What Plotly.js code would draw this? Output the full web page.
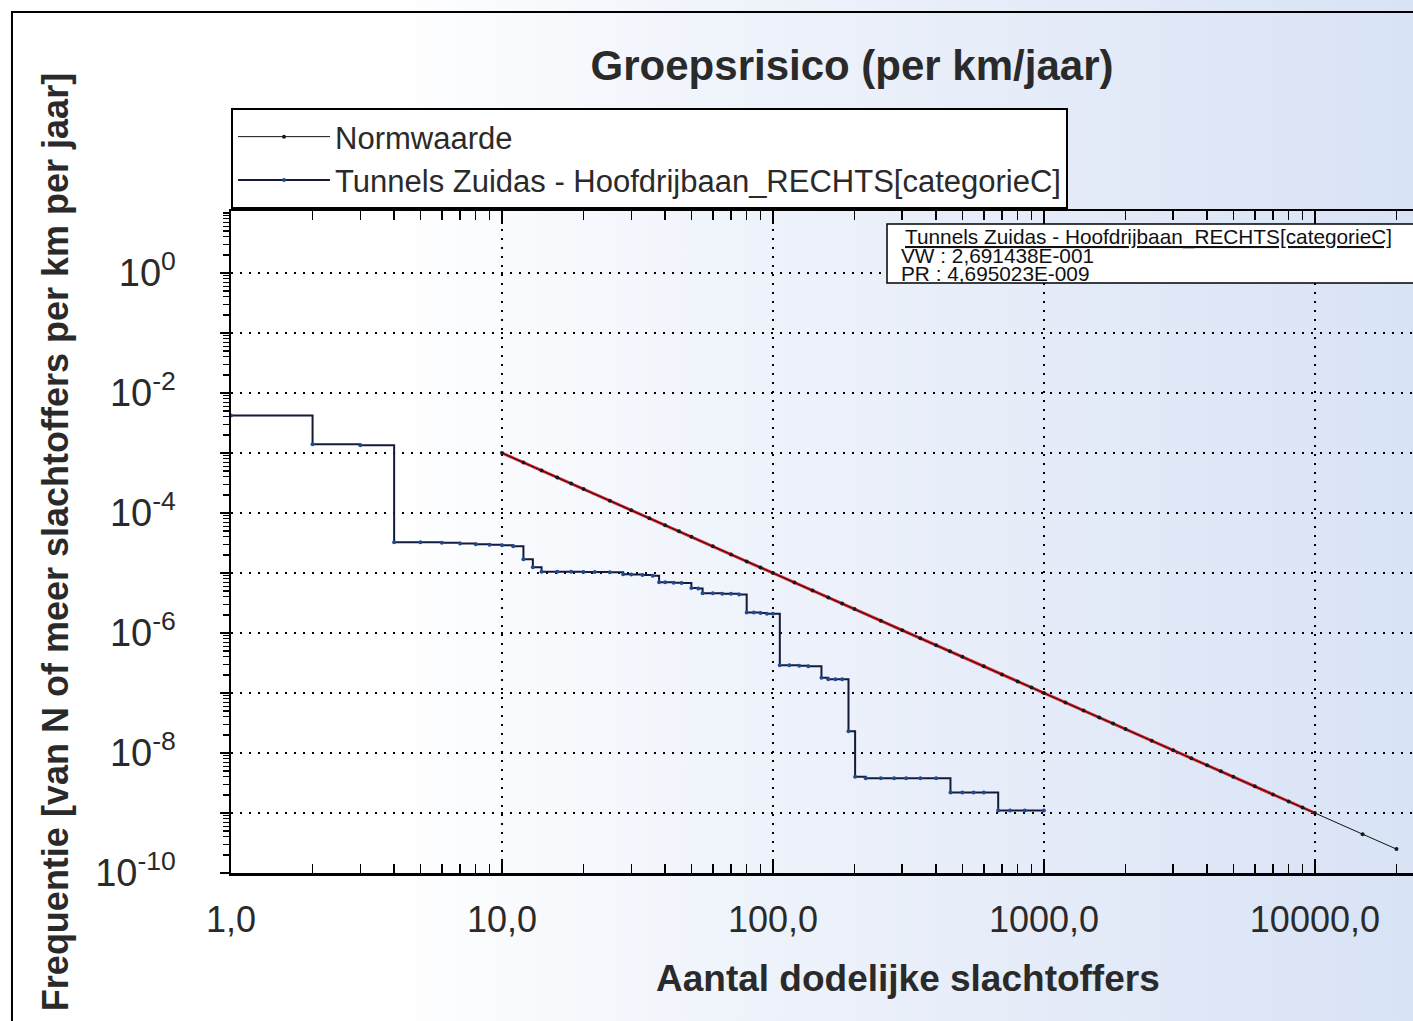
<!DOCTYPE html>
<html>
<head>
<meta charset="utf-8">
<script src="https://cdn.plot.ly/plotly-3.0.1.min.js"></script>
<style>
  html, body { margin: 0; padding: 0; }
  body {
    width: 1413px; height: 1021px; overflow: hidden;
    background: linear-gradient(90deg, #ffffff 0%, #ffffff 27%, #f0f4fb 50%, #e3eaf8 78%, #d8e3f6 100%);
  }
  #chart { width: 1413px; height: 1021px; }
</style>
</head>
<body>
<div id="chart"></div>
<script>
// ---- data ----
const normN = [10,12,14,16,18,20,25,30,35,40,45,50,60,70,80,90,
  100,120,140,160,180,200,250,300,350,400,450,500,600,700,800,900,
  1000,1200,1400,1600,1800,2000,2500,3000,3500,4000,4500,5000,6000,7000,8000,9000,
  10000,15000,20000];
const normF = [1e-3,6.94e-4,5.10e-4,3.91e-4,3.09e-4,2.5e-4,1.6e-4,1.11e-4,8.16e-5,6.25e-5,4.94e-5,4e-5,2.78e-5,2.04e-5,1.56e-5,1.23e-5,
  1e-5,6.94e-6,5.10e-6,3.91e-6,3.09e-6,2.5e-6,1.6e-6,1.11e-6,8.16e-7,6.25e-7,4.94e-7,4e-7,2.78e-7,2.04e-7,1.56e-7,1.23e-7,
  1e-7,6.94e-8,5.10e-8,3.91e-8,3.09e-8,2.5e-8,1.6e-8,1.11e-8,8.16e-9,6.25e-9,4.94e-9,4e-9,2.78e-9,2.04e-9,1.56e-9,1.23e-9,
  1e-9,4.44e-10,2.5e-10];

const redN = [10, 10000];
const redF = [1e-3, 1e-9];

const tunnelN = [1,2,3,4,5,6,7,8,9,10,11,12,13,14,16,18,20,22,25,28,30,33,36,38,40,43,46,50,53,55,60,65,70,75,80,85,90,95,100,
  106,115,125,135,151,160,170,180,190,201,220,250,280,310,350,400,452,500,550,600,678,750,850,1000];
const tunnelF = [4.2e-3,1.4e-3,1.35e-3,3.25e-5,3.25e-5,3.2e-5,3.1e-5,3.0e-5,2.95e-5,2.9e-5,2.8e-5,1.7e-5,1.25e-5,1.05e-5,1.05e-5,1.05e-5,1.04e-5,1.04e-5,1.03e-5,9.5e-6,9.4e-6,9.3e-6,9.0e-6,7.0e-6,7.0e-6,6.9e-6,6.8e-6,5.6e-6,5.5e-6,4.6e-6,4.6e-6,4.5e-6,4.5e-6,4.4e-6,2.2e-6,2.2e-6,2.15e-6,2.1e-6,2.1e-6,
  2.9e-7,2.9e-7,2.85e-7,2.8e-7,1.8e-7,1.7e-7,1.7e-7,1.7e-7,2.3e-8,4.0e-9,3.8e-9,3.8e-9,3.8e-9,3.8e-9,3.8e-9,3.8e-9,2.2e-9,2.2e-9,2.2e-9,2.2e-9,1.1e-9,1.1e-9,1.1e-9,1.1e-9];

const xTickVals = [1, 10, 100, 1000, 10000];
const xTickText = ['1,0', '10,0', '100,0', '1000,0', '10000,0'];
const yTickVals = [1e-10,1e-9,1e-8,1e-7,1e-6,1e-5,1e-4,1e-3,1e-2,1e-1,1e0];
const yTickText = ['10<sup>-10</sup>',' ','10<sup>-8</sup>',' ','10<sup>-6</sup>',' ','10<sup>-4</sup>',' ','10<sup>-2</sup>',' ','10<sup>0</sup>'];

const infoLines = ['<span style="text-decoration:underline">Tunnels Zuidas - Hoofdrijbaan_RECHTS[categorieC]</span>',
  'VW : 2,691438E-001', 'PR : 4,695023E-009'];

// ---- styles ----
const FONT = 'Liberation Sans, Arial, sans-serif';
const TXT = '#2a2a2a';

const traces = [
  { x: redN, y: redF, type: 'scatter', mode: 'lines', showlegend: false, hoverinfo: 'skip',
    line: { color: '#e3242f', width: 3 } },
  { x: normN, y: normF, type: 'scatter', mode: 'lines+markers', name: 'Normwaarde',
    line: { color: '#111111', width: 1 }, marker: { color: '#1a1a1a', size: 4 } },
  { x: tunnelN, y: tunnelF, type: 'scatter', mode: 'lines+markers', name: 'Tunnels Zuidas - Hoofdrijbaan_RECHTS[categorieC]',
    line: { color: '#141a3a', width: 2, shape: 'hv' }, marker: { color: '#1f4a98', size: 4 } }
];

const gridStyle = { showgrid: true, gridcolor: '#000', gridwidth: 2, griddash: '2px,7px' };

const layout = {
  width: 1413, height: 1021,
  margin: { l: 231, r: 0, t: 211, b: 148, pad: 0 },
  paper_bgcolor: 'rgba(0,0,0,0)',
  plot_bgcolor: 'rgba(0,0,0,0)',
  font: { family: FONT, color: TXT },
  title: { text: 'Groepsrisico (per km/jaar)', x: 0.603, xanchor: 'center', xref: 'container',
    y: 0.936, yanchor: 'middle', yref: 'container',
    font: { family: FONT, size: 42, weight: 'bold', color: TXT } },
  xaxis: Object.assign({
    type: 'log', range: [0, 4.362], tickmode: 'array', tickvals: xTickVals, ticktext: xTickText,
    ticks: 'inside', ticklen: 13, tickwidth: 2, tickcolor: '#000',
    showline: true, linecolor: '#000', linewidth: 2.5, mirror: 'ticks', zeroline: false,
    tickfont: { family: FONT, size: 36, color: TXT }, ticklabelstandoff: 13,
    minor: { dtick: 'D1', ticks: 'inside', ticklen: 9, tickwidth: 1.5, tickcolor: '#000', showgrid: false }
  }, gridStyle),
  yaxis: Object.assign({
    type: 'log', range: [-10, 1.033], tickmode: 'array', tickvals: yTickVals, ticktext: yTickText,
    ticks: 'outside', ticklen: 9, tickwidth: 2, tickcolor: '#000',
    showline: true, linecolor: '#000', linewidth: 2.5, zeroline: false,
    tickfont: { family: FONT, size: 38, color: TXT }, ticklabelstandoff: 36,
    minor: { dtick: 'D1', ticks: 'outside', ticklen: 6, tickwidth: 1.2, tickcolor: '#000', showgrid: false },
    title: { text: 'Frequentie [van N of meer slachtoffers per km per jaar]', standoff: 16,
      font: { family: FONT, size: 36, weight: 'bold', color: TXT } }
  }, gridStyle),
  yaxis2: {
    type: 'log', range: [-10, 1.033], overlaying: 'y', anchor: 'x', side: 'left',
    tickmode: 'array', tickvals: yTickVals, showticklabels: false,
    ticks: 'inside', ticklen: 9, tickwidth: 2, tickcolor: '#000', showgrid: false, showline: false, zeroline: false,
    minor: { dtick: 'D1', ticks: 'inside', ticklen: 6, tickwidth: 1.2, tickcolor: '#000', showgrid: false }
  },
  legend: { x: 0, xanchor: 'left', y: 1.1556, yanchor: 'top', bgcolor: '#ffffff',
    bordercolor: '#000', borderwidth: 2, font: { family: FONT, size: 31, color: TXT },
    itemwidth: 92, tracegroupgap: 0 },
  shapes: [
    { type: 'rect', xref: 'paper', yref: 'paper', x0: 0.555, x1: 1.02, y0: 0.8912, y1: 0.9804,
      line: { color: '#000', width: 1.5 }, fillcolor: '#ffffff' },
    { type: 'rect', xref: 'paper', yref: 'paper', x0: -0.1853, x1: 1.05, y0: -0.3, y1: 1.3006,
      line: { color: '#000', width: 2 }, fillcolor: 'rgba(0,0,0,0)' }
  ],
  annotations: [
    { text: 'Aantal dodelijke slachtoffers', xref: 'paper', yref: 'paper', x: 0.573, y: -0.159,
      xanchor: 'center', yanchor: 'middle', showarrow: false,
      font: { family: FONT, size: 37, weight: 'bold', color: TXT } },
    { text: infoLines[0], xref: 'paper', yref: 'paper', x: 0.5695, y: 0.9605, xanchor: 'left', yanchor: 'middle',
      showarrow: false, borderpad: 0, font: { family: FONT, size: 20.8, color: '#111' } },
    { text: infoLines[1], xref: 'paper', yref: 'paper', x: 0.566, y: 0.933, xanchor: 'left', yanchor: 'middle',
      showarrow: false, borderpad: 0, font: { family: FONT, size: 20.8, color: '#111' } },
    { text: infoLines[2], xref: 'paper', yref: 'paper', x: 0.566, y: 0.9055, xanchor: 'left', yanchor: 'middle',
      showarrow: false, borderpad: 0, font: { family: FONT, size: 20.8, color: '#111' } }
  ]
};

Plotly.newPlot('chart', traces, layout, { displayModeBar: false, staticPlot: true });
</script>
</body>
</html>
